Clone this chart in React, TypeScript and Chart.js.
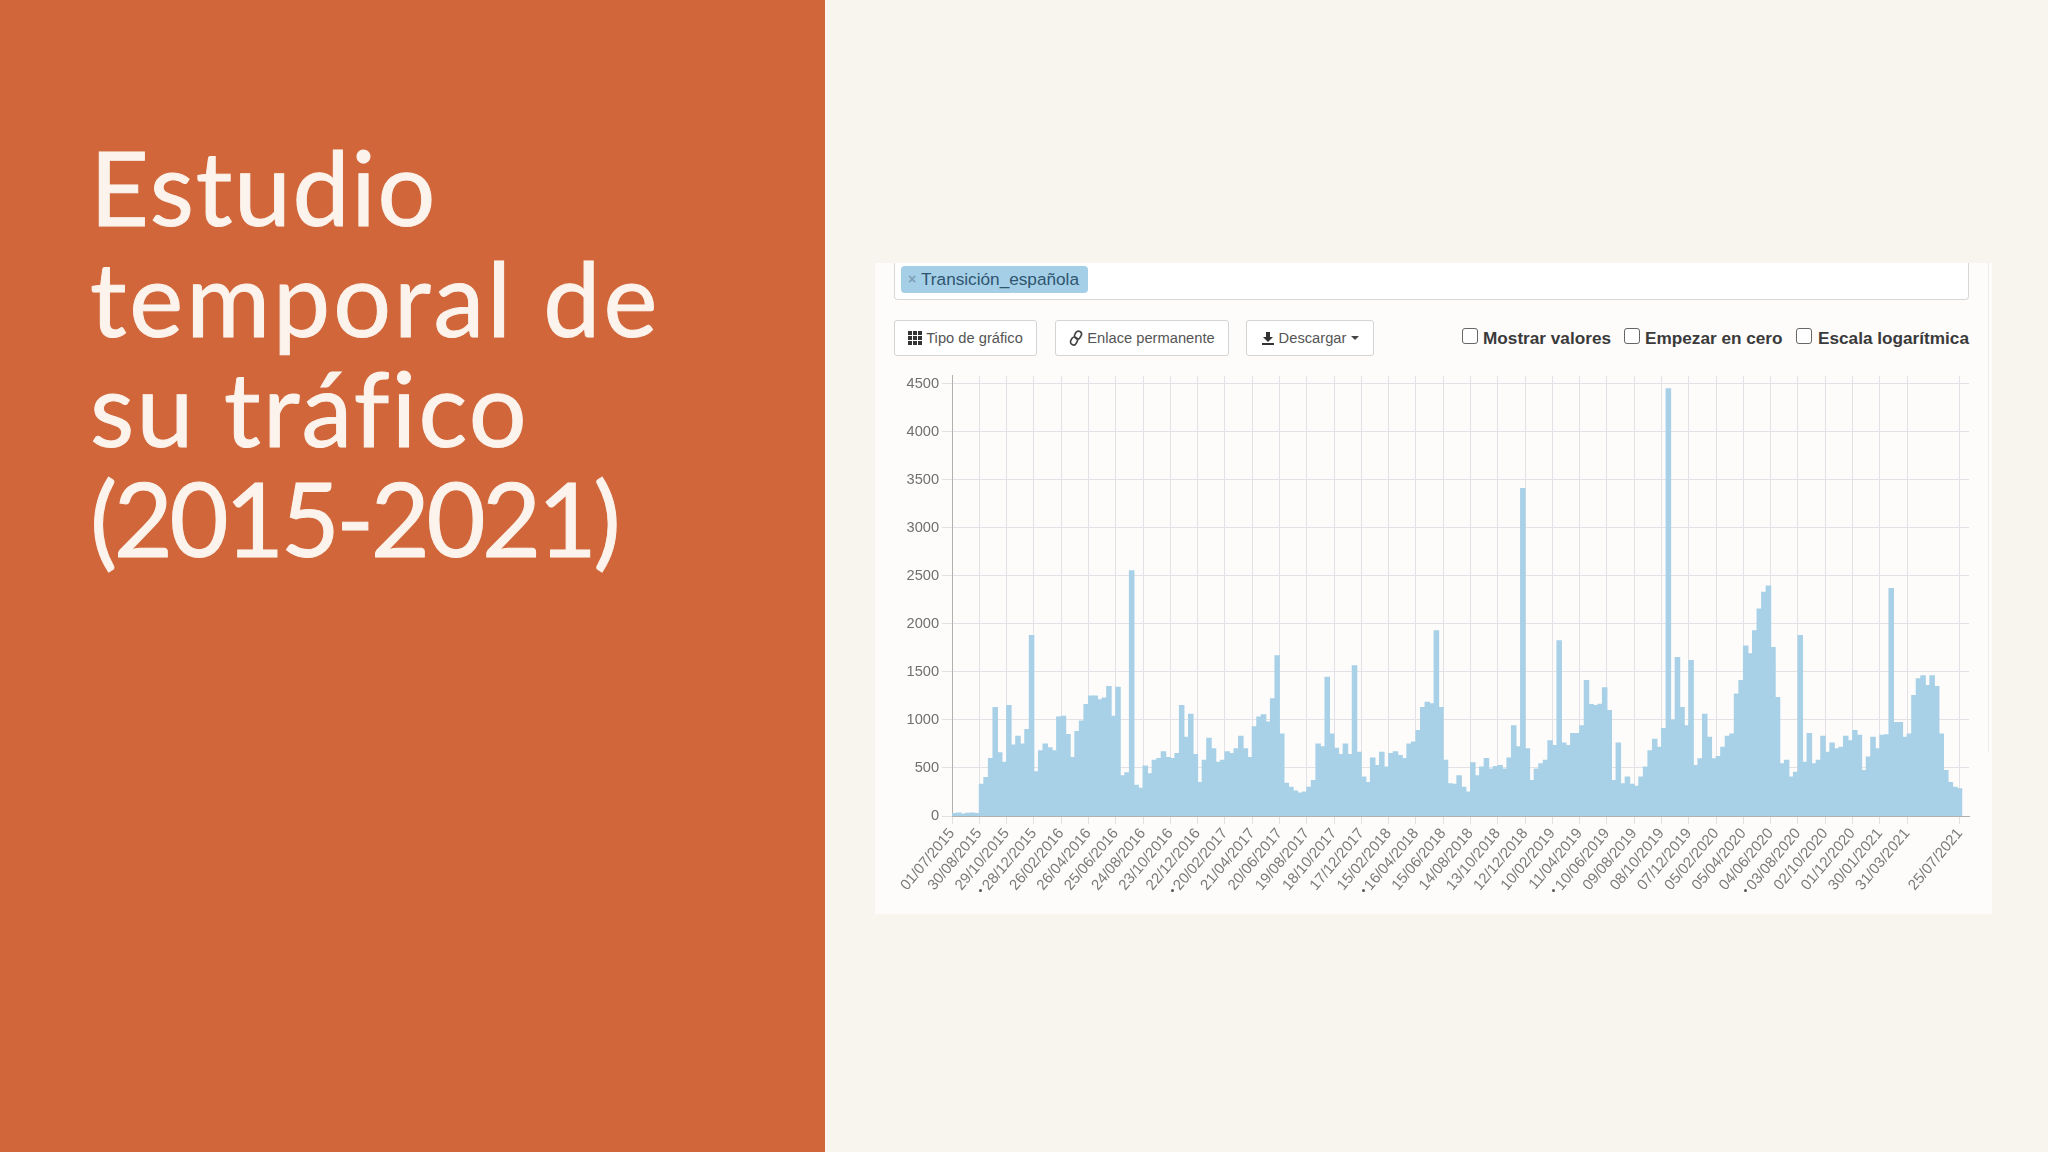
import React, { useEffect, useRef } from "react";
import { Chart, registerables } from "chart.js";

Chart.register(...registerables);

const titleLines = ["Estudio", "temporal de", "su tráfico", "(2015-2021)"];
const seriesName = "Transición_española";
const BIN_DAYS = 10;

const views2015 = [25,30,20,28,30,25,330,400,600,1130,660,560,1150,740,830,750,900,1880];
const views2016 = [460,680,750,710,680,1030,1040,850,610,880,990,1160,1250,1250,1210,1230,1350,1040,1340,420,450,2555,320,290,520,440,580,600,670,610,600,650,1150,820,1060,640,350];
const views2017 = [580,810,700,560,580,670,650,700,830,700,610,930,1030,1055,980,1220,1670,855,340,300,260,240,250,300,370,750,720,1445,855,705,640,750,640,1565,665,405];
const views2018 = [350,605,525,665,510,650,670,630,600,750,770,890,1130,1185,1170,1930,1130,580,335,330,420,300,250,555,420,510,600,490,515,525,490,605,940,720,3410,700];
const views2019 = [370,490,545,580,785,735,1825,760,735,860,860,940,1410,1160,1150,1165,1335,1100,370,760,335,405,330,310,405,510,680,800,715,910,4449,1000,1650,1130,940,1620];
const views2020 = [525,595,1060,820,595,620,715,830,855,1270,1410,1770,1690,1930,2155,2330,2395,1755,1235,545,580,405,455,1880,560,860,545,580,830,665,760,700,715,830,785,890];
const views2021 = [840,475,615,820,700,840,845,2370,975,975,820,855,1255,1430,1460,1360,1460,1350,855,475,350,300,285];
const views = [...views2015, ...views2016, ...views2017, ...views2018, ...views2019, ...views2020, ...views2021];

const tickDays = [0,60,120,180,240,300,360,420,480,540,600,660,720,780,840,900,960,1020,1080,1140,1200,1260,1320,1380,1440,1500,1560,1620,1680,1740,1800,1860,1920,1980,2040,2100,2216];
const tickDates = ["01/07/2015","30/08/2015","29/10/2015","28/12/2015","26/02/2016","26/04/2016","25/06/2016","24/08/2016","23/10/2016","22/12/2016","20/02/2017","21/04/2017","20/06/2017","19/08/2017","18/10/2017","17/12/2017","15/02/2018","16/04/2018","15/06/2018","14/08/2018","13/10/2018","12/12/2018","10/02/2019","11/04/2019","10/06/2019","09/08/2019","08/10/2019","07/12/2019","05/02/2020","05/04/2020","04/06/2020","03/08/2020","02/10/2020","01/12/2020","30/01/2021","31/03/2021","25/07/2021"];
const yTicks = [0,500,1000,1500,2000,2500,3000,3500,4000,4500];
const X_MAX = 2236;
const Y_MAX = 4585;

const FONT = '"Liberation Sans", Arial, sans-serif';
const titleTops = [117, 228, 338, 448];
const titleSpacing = [1.7, 3, 2.3, -3.5];

const abs = (l: number, t: number, w: number, h: number): React.CSSProperties => ({
  position: "absolute", left: l, top: t, width: w, height: h, boxSizing: "border-box",
});

function Btn({ l, w, label, icon, caret }: { l: number; w: number; label: string; icon: React.ReactNode; caret?: boolean }) {
  return (
    <div style={{ ...abs(l, 320, w, 36), border: "1px solid #d4d4d4", borderRadius: 3, background: "#fff", color: "#555", font: `14.7px ${FONT}`, display: "flex", alignItems: "center", justifyContent: "center", gap: 4, whiteSpace: "nowrap" }}>
      {icon}
      <span>{label}</span>
      {caret && <span style={{ width: 0, height: 0, borderLeft: "4px solid transparent", borderRight: "4px solid transparent", borderTop: "4px solid #444", marginLeft: 1 }} />}
    </div>
  );
}

function Check({ l, textL, label }: { l: number; textL: number; label: string }) {
  return (
    <>
      <div style={{ ...abs(l, 328, 16, 16), border: "1.5px solid #666", borderRadius: 3, background: "#fff" }} />
      <div style={{ position: "absolute", left: textL, top: 328, font: `bold 17.2px ${FONT}`, color: "#3a3a3a", lineHeight: "20px", whiteSpace: "nowrap" }}>{label}</div>
    </>
  );
}

const dotXs = [980, 1172, 1363, 1553, 1745];

export default function App() {
  const ref = useRef<HTMLCanvasElement>(null);
  useEffect(() => {
    document.body.style.margin = "0";
    document.body.style.overflow = "hidden";
    const chart = new Chart(ref.current!, {
      type: "bar",
      data: {
        datasets: [{
          label: seriesName,
          data: views.map((y, i) => ({ x: i * BIN_DAYS + BIN_DAYS / 2, y })),
          backgroundColor: "#A8D1E8",
          borderWidth: 0,
          inflateAmount: 0.5,
          barPercentage: 1,
          categoryPercentage: 1,
        }],
      },
      options: {
        responsive: false,
        animation: false,
        layout: { padding: { top: 5, right: 11, left: 0, bottom: 0 } },
        plugins: { legend: { display: false }, tooltip: { enabled: false } },
        scales: {
          x: {
            type: "linear",
            min: 0,
            max: X_MAX,
            offset: false,
            grid: { offset: false, color: "#E2E1E6", lineWidth: 1, tickLength: 8, tickColor: "#E0E0E0" },
            border: { color: "#B0B0B0" },
            afterBuildTicks: (s: any) => { s.ticks = tickDays.map((value) => ({ value })); },
            afterFit: (s: any) => { s.height = 94; },
            ticks: {
              autoSkip: false,
              minRotation: 50,
              maxRotation: 50,
              color: "#7a7a7a",
              padding: 1,
              font: { family: "Liberation Sans", size: 15 },
              callback: (v: any) => tickDates[tickDays.indexOf(v)],
            },
          },
          y: {
            min: 0,
            max: Y_MAX,
            grid: { color: "#E2E1E6", lineWidth: 1, tickLength: 10, tickColor: "#E0E0E0" },
            border: { color: "#B0B0B0" },
            afterBuildTicks: (s: any) => { s.ticks = yTicks.map((value) => ({ value })); },
            afterFit: (s: any) => { s.width = 72; },
            ticks: {
              color: "#707070",
              padding: 3,
              font: { family: "Liberation Sans", size: 14.6 },
              callback: (v: any) => String(v),
            },
          },
        },
      },
    } as any);
    return () => chart.destroy();
  }, []);

  return (
    <div style={{ position: "relative", width: 2048, height: 1152, background: "#F8F4EE", overflow: "hidden" }}>
      <div style={{ ...abs(0, 0, 825, 1152), background: "#D0663A" }} />
      {titleLines.map((t, i) => (
        <div key={t} style={{ position: "absolute", left: 90, top: titleTops[i], fontFamily: "Lato, sans-serif", fontSize: 102, lineHeight: "140px", color: "#FBF3EC", WebkitTextStroke: "1px #FBF3EC", letterSpacing: titleSpacing[i], whiteSpace: "nowrap" }}>{t}</div>
      ))}

      <div style={{ ...abs(875, 263, 1117, 651), background: "#FDFCFB" }} />
      <div style={{ ...abs(1988, 263, 1, 489), background: "#ECECEC" }} />
      <div style={{ ...abs(894, 263, 1075, 37), background: "#fff", border: "1px solid #d8d8d8", borderTop: "none", borderRadius: "0 0 4px 4px" }} />
      <div style={{ ...abs(901, 266, 187, 27), background: "#A5CFE6", borderRadius: 4, color: "#2f5570", font: `17.2px ${FONT}`, lineHeight: "27px", paddingLeft: 20, whiteSpace: "nowrap" }}>{seriesName}</div>
      <div style={{ position: "absolute", left: 908, top: 266, font: `bold 14px ${FONT}`, lineHeight: "27px", color: "#7f9fb8" }}>×</div>

      <Btn l={894} w={143} label="Tipo de gráfico" icon={
        <svg width="14" height="14" viewBox="0 0 14 14"><g fill="#333">{[0, 5, 10].flatMap((a) => [0, 5, 10].map((b) => <rect key={`${a}-${b}`} x={a} y={b} width="4" height="4" />))}</g></svg>
      } />
      <Btn l={1055} w={174} label="Enlace permanente" icon={
        <svg width="14" height="16" viewBox="0 0 14 16"><g fill="none" stroke="#444" strokeWidth="1.7"><rect x="6" y="1" width="6" height="8" rx="3" transform="rotate(28 9 5)" /><rect x="2" y="7" width="6" height="8" rx="3" transform="rotate(28 5 11)" /></g></svg>
      } />
      <Btn l={1246} w={128} label="Descargar" caret icon={
        <svg width="14" height="15" viewBox="0 0 14 15"><path d="M5 1h4v5h3l-5 5-5-5h3z M1 12h12v2H1z" fill="#333" /></svg>
      } />

      <Check l={1462} textL={1483} label="Mostrar valores" />
      <Check l={1624} textL={1645} label="Empezar en cero" />
      <Check l={1796} textL={1818} label="Escala logarítmica" />

      <canvas ref={ref} width={1100} height={546} style={{ position: "absolute", left: 880, top: 364, width: 1100, height: 546, filter: "blur(0.4px)" }} />
      {dotXs.map((x) => (
        <div key={x} style={{ ...abs(x - 1.5, 889, 3, 3), borderRadius: 2, background: "#555" }} />
      ))}
    </div>
  );
}
